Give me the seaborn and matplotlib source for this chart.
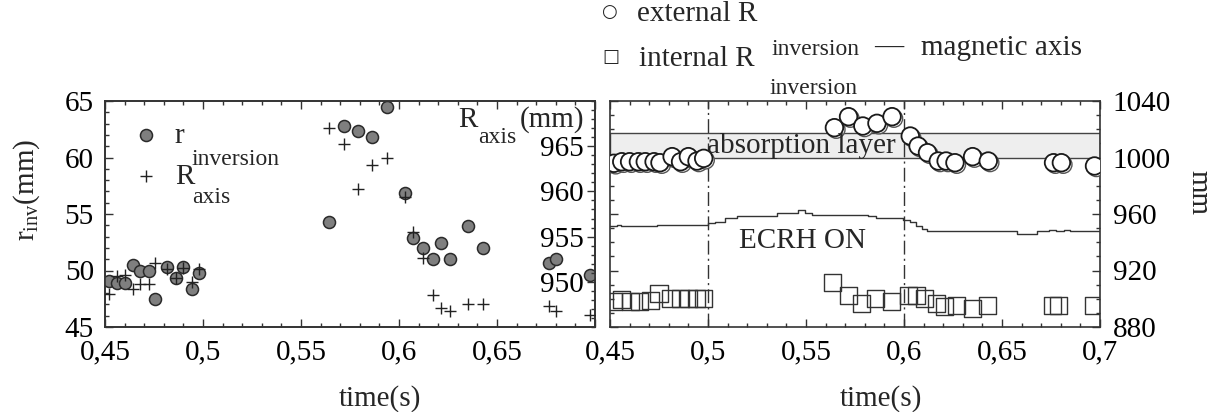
import matplotlib
matplotlib.use("Agg")
import matplotlib.pyplot as plt
import matplotlib.patheffects as pe
from matplotlib.ticker import MultipleLocator
import seaborn as sns

# sawtooth crash times (s) and values
t_crash = [0.452, 0.456, 0.460, 0.4645, 0.468, 0.4725, 0.4755, 0.4817, 0.486, 0.490,
           0.4944, 0.4978, 0.5645, 0.5717, 0.579, 0.5862, 0.5939, 0.6032, 0.6072, 0.612,
           0.6175, 0.6215, 0.626, 0.635, 0.643, 0.6763, 0.6803, 0.6972]
r_inversion = [49.1, 48.9, 48.9, 50.5, 50.0, 50.0, 47.5, 50.3, 49.3, 50.3,
               48.4, 49.8, 54.3, 62.8, 62.35, 61.85, 64.45, 56.9, 52.85, 51.95,
               51.0, 52.45, 51.0, 53.9, 51.95, 50.65, 51.0, 49.6]
R_axis = [948.7, 950.6, 950.75, 949.2, 949.75, 949.75, 952.05, 951.4, 950.4, 951.5,
          950.0, 951.4, 967.05, 965.25, 960.25, 962.9, 963.75, 959.35, 955.55, 952.6,
          948.55, 947.05, 946.75, 947.55, 947.55, 947.3, 946.75, 946.3]
R_ext = [995.9, 997.0, 997.0, 997.0, 997.0, 997.0, 996.3, 1000.6, 997.0, 1000.6,
         997.5, 999.4, 1021.1, 1028.9, 1022.3, 1024.2, 1028.9, 1015.2, 1008.1, 1003.4,
         997.5, 997.5, 996.3, 1000.6, 997.5, 996.3, 996.3, 994.0]

t_int = [0.4519, 0.4559, 0.4606, 0.465, 0.4706, 0.475, 0.481, 0.4861, 0.4901, 0.4941,
         0.4975, 0.5634, 0.5718, 0.5784, 0.5855, 0.5935, 0.6025, 0.6065, 0.6106, 0.6166,
         0.6206, 0.6266, 0.6347, 0.6427, 0.6758, 0.6788, 0.6969]
R_int = [897.9, 899.6, 897.9, 897.9, 898.6, 903.9, 900.3, 900.3, 900.3, 900.3,
         900.3, 911.6, 902.2, 896.3, 900.3, 898.4, 902.2, 902.2, 900.3, 896.8,
         894.4, 894.9, 893.2, 894.9, 894.9, 894.9, 894.9]

# magnetic axis (step trace)
t_mag = [0.450, 0.4535, 0.4555, 0.474, 0.4832, 0.500, 0.5036, 0.5087, 0.5148, 0.5352,
         0.5459, 0.5495, 0.5531, 0.5814, 0.5855, 0.5995, 0.603, 0.606, 0.609, 0.6115,
         0.6577, 0.6678, 0.6738, 0.6778, 0.6818, 0.6848, 0.700]
R_mag = [951.5, 952.5, 951.5, 952.3, 951.9, 953.4, 954.6, 957.0, 958.8, 960.5,
         962.8, 960.5, 959.3, 958.5, 957.0, 956.0, 954.0, 951.5, 949.5, 947.8,
         946.0, 947.8, 948.6, 947.8, 948.6, 947.8, 947.8]

absorption_layer = [1000, 1017]
ecrh_window = [0.5, 0.6]
time_ticks = [0.45, 0.5, 0.55, 0.6, 0.65, 0.7]
time_labels = ["0,45", "0,5", "0,55", "0,6", "0,65", "0,7"]

sns.set_style("ticks")
plt.rcParams["font.family"] = ["Liberation Serif", "DejaVu Sans"]
plt.rcParams["mathtext.fontset"] = "custom"
plt.rcParams["mathtext.rm"] = "Liberation Serif"
plt.rcParams["font.size"] = 21
plt.rcParams["axes.edgecolor"] = "#333333"
plt.rcParams["axes.linewidth"] = 1.2
plt.rcParams["xtick.color"] = "#333333"
plt.rcParams["ytick.color"] = "#333333"
plt.rcParams["xtick.labelcolor"] = "black"
plt.rcParams["ytick.labelcolor"] = "black"

W, H = 1217, 412
fig = plt.figure(figsize=(W / 100, H / 100), dpi=100)
fig.patch.set_facecolor("white")


def fx(x):
    return x / W


def fy(y):
    return 1 - y / H


ax = fig.add_axes([fx(105), fy(327), 490 / W, 226 / H])
ax2 = fig.add_axes([fx(610), fy(327), 490 / W, 226 / H])
axr = ax.twinx()

sub = 17

# ---------- left panel ----------
sns.scatterplot(x=t_crash, y=r_inversion, ax=ax, marker="o", s=75, color="#7f7f7f",
                edgecolor="#2a2a2a", linewidth=1.1, zorder=3)
sns.scatterplot(x=t_crash, y=R_axis, ax=axr, marker="+", s=70, color="#222222",
                linewidth=1.0, zorder=3)

ax.set_xlim(0.45, 0.70)
ax.set_ylim(45, 65)
ax.set_xticks(time_ticks)
ax.set_xticklabels(time_labels[:-1] + [""])
ax.set_yticks([45, 50, 55, 60, 65])
ax.xaxis.set_minor_locator(MultipleLocator(0.01))
ax.yaxis.set_minor_locator(MultipleLocator(1))
ax.tick_params(which="both", direction="in", top=True, right=False)
ax.tick_params(which="major", length=6, width=1)
ax.tick_params(which="minor", length=3, width=1)
ax.tick_params(axis="x", pad=9)
ax.tick_params(axis="y", pad=8)

axr.set_ylim(945, 970)
axr.set_yticks([950, 955, 960, 965])
axr.yaxis.set_minor_locator(MultipleLocator(1))
axr.tick_params(which="both", direction="in", pad=-8)
axr.tick_params(which="major", length=6, width=1)
axr.tick_params(which="minor", length=3, width=1)
plt.setp(axr.get_yticklabels(), ha="right")
axr.set_ylabel("")

ax.set_xlabel("time(s)")
ax.xaxis.set_label_coords(0.561, -0.257)
ax.set_ylabel("")
fig.text(fx(27), fy(190), r"$\mathregular{r_{inv}(mm)}$", rotation=90,
         ha="center", va="center")

leg = ax.legend([ax.collections[0], axr.collections[0]], ["r", "R"],
                loc="upper left", bbox_to_anchor=((131 - 105) / 490, 0.905),
                frameon=False, borderpad=0, borderaxespad=0, handlelength=1.0,
                handletextpad=0.5, labelspacing=0.5)
fig.text(fx(191), fy(165), "inversion", fontsize=sub, va="baseline")
fig.text(fx(192), fy(203), "axis", fontsize=sub, va="baseline")

fig.text(fx(458), fy(127), "R", va="baseline")
fig.text(fx(478), fy(143), "axis", fontsize=sub, va="baseline")
fig.text(fx(584), fy(127), "(mm)", va="baseline", ha="right")

# ---------- right panel ----------
ax2.axhspan(absorption_layer[0], absorption_layer[1], facecolor="#eeeeee",
            edgecolor="#444444", linewidth=1.0, zorder=1)
for t in ecrh_window:
    ax2.axvline(t, color="#333333", linewidth=1.0, linestyle=(0, (10, 3, 1.5, 3)), zorder=1)
sns.lineplot(x=t_mag, y=R_mag, ax=ax2, drawstyle="steps-post", color="#333333",
             linewidth=1.0, estimator=None, sort=False, zorder=2)
sns.scatterplot(x=t_int, y=R_int, ax=ax2, marker="s", s=150, facecolor="none",
                edgecolor="#333333", linewidth=1.0, zorder=3)
sns.scatterplot(x=t_crash, y=R_ext, ax=ax2, marker="o", s=160, color="white",
                edgecolor="#1a1a1a", linewidth=1.3, zorder=4)
# double-outline look of the open circles
ax2.collections[-1].set_path_effects([
    pe.Stroke(offset=(1.3, -1.3), linewidth=1.0, foreground="#555555"),
    pe.Normal()])

ax2.text(0.5477, 1008.3, "absorption layer", ha="center", va="center", zorder=5)
ax2.text(0.5484, 941, "ECRH ON", ha="center", va="center", zorder=5)

ax2.set_xlim(0.45, 0.70)
ax2.set_ylim(880, 1040)
ax2.set_xticks(time_ticks)
ax2.set_xticklabels(time_labels)
ax2.set_yticks([880, 920, 960, 1000, 1040])
ax2.xaxis.set_minor_locator(MultipleLocator(0.01))
ax2.yaxis.set_minor_locator(MultipleLocator(10))
ax2.tick_params(which="both", direction="in", top=True, right=True, left=True,
                labelleft=False, labelright=True)
ax2.tick_params(which="major", length=6, width=1)
ax2.tick_params(which="minor", length=3, width=1)
ax2.tick_params(axis="x", pad=9)
ax2.tick_params(axis="y", pad=9)
ax2.set_xlabel("time(s)")
ax2.xaxis.set_label_coords(0.553, -0.257)
ax2.set_ylabel("")
fig.text(fx(1198), fy(192), "mm", rotation=270, ha="center", va="center")

# ---------- top legend ----------
fig.text(fx(609), fy(12), "\u25cb", fontsize=13, ha="center", va="center",
         family="DejaVu Sans")
fig.text(fx(637), fy(21), "external R", va="baseline")
fig.text(fx(771), fy(55), "inversion", fontsize=sub, va="baseline")
fig.text(fx(611), fy(57), "\u25a1", fontsize=13, ha="center", va="center",
         family="DejaVu Sans")
fig.text(fx(639), fy(66), "internal R", va="baseline")
fig.text(fx(769), fy(94), "inversion", fontsize=sub, va="baseline")
fig.text(fx(874), fy(55), "\u2014", va="baseline")
fig.text(fx(921), fy(55), "magnetic axis", va="baseline")

fig.savefig("out.png", dpi=100)
